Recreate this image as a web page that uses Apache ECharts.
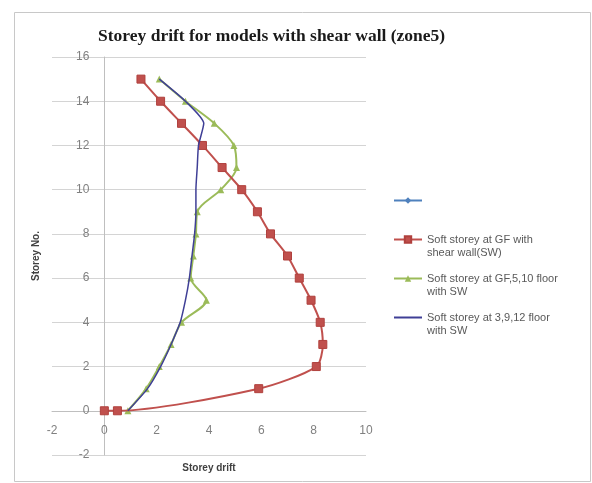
<!DOCTYPE html>
<html>
<head>
<meta charset="utf-8">
<script src="https://cdn.jsdelivr.net/npm/echarts@6/dist/echarts.min.js"></script>
<style>
html,body{margin:0;padding:0;background:#fff;}
#c{width:592px;height:483px;}
</style>
</head>
<body>
<div id="c"></div>
<script>
// ---- data ----
const title = 'Storey drift for models with shear wall (zone5)';
const xName = 'Storey drift';
const yName = 'Storey No.';
const seriesNames = [' ', 'Soft storey at GF with\nshear wall(SW)', 'Soft storey at GF,5,10 floor\nwith SW', 'Soft storey at 3,9,12 floor\nwith SW'];

const blankDrift = [0];
const blankStorey = [0];

const redDrift = [0, 0.5, 5.9, 8.1, 8.35, 8.25, 7.9, 7.45, 7.0, 6.35, 5.85, 5.25, 4.5, 3.75, 2.95, 2.15, 1.4];
const redStorey = [0, 0, 1, 2, 3, 4, 5, 6, 7, 8, 9, 10, 11, 12, 13, 14, 15];

const greenDrift = [0.9, 1.6, 2.1, 2.55, 2.95, 3.9, 3.3, 3.4, 3.5, 3.55, 4.45, 5.05, 4.95, 4.2, 3.1, 2.1];
const greenStorey = [0, 1, 2, 3, 4, 5, 6, 7, 8, 9, 10, 11, 12, 13, 14, 15];

const navyDrift = [0.9, 1.65, 2.15, 2.55, 2.9, 3.1, 3.25, 3.35, 3.45, 3.5, 3.5, 3.55, 3.6, 3.8, 3.1, 2.1];
const navyStorey = [0, 1, 2, 3, 4, 5, 6, 7, 8, 9, 10, 11, 12, 13, 14, 15];

const xMin = -2, xMax = 10, xStep = 2;
const yMin = -2, yMax = 16, yStep = 2;

function pairs(xs, ys) { return xs.map((x, i) => [x, ys[i]]); }

const W = 592, H = 483;
const G = {left: 52, right: 226, top: 57, bottom: 28};
const gw = W - G.left - G.right, gh = H - G.top - G.bottom;
// axes cross at zero: shift axis (line + labels) into the grid
const yAxisShift = gw * (0 - xMin) / (xMax - xMin);
const xAxisShift = gh * (0 - yMin) / (yMax - yMin);

const chart = echarts.init(document.getElementById('c'), null, {renderer: 'canvas'});
const labelColor = '#595959';
chart.setOption({
  backgroundColor: '#fff',
  animation: false,
  title: {
    text: title,
    left: 93, top: 22,
    textStyle: {fontFamily: 'Liberation Serif', fontWeight: 'bold', fontSize: 17.5, color: '#1a1a1a'}
  },
  graphic: [{
    type: 'rect', shape: {x: 14.5, y: 12.5, width: 576, height: 469},
    style: {fill: null, stroke: '#c8c8c8', lineWidth: 1}, z: -1
  }],
  grid: Object.assign({outerBoundsMode: 'none', containLabel: false}, G),
  legend: {
    orient: 'vertical', left: 388, top: 176, itemGap: 0,
    itemWidth: 28, itemHeight: 8,
    data: [
      {name: seriesNames[0]},
      {name: seriesNames[1]},
      {name: seriesNames[2]},
      {name: seriesNames[3], itemStyle: {opacity: 0}}
    ],
    formatter: n => n.indexOf('\n') >= 0 ? '\n' + n : '\n' + n + '\n',
    textStyle: {fontFamily: 'Liberation Sans', fontSize: 11, color: labelColor, lineHeight: 13}
  },
  xAxis: {
    type: 'value', min: xMin, max: xMax, interval: xStep,
    position: 'bottom', offset: -xAxisShift,
    name: xName, nameLocation: 'middle', nameGap: 52,
    nameTextStyle: {fontFamily: 'Liberation Sans', fontWeight: 'bold', fontSize: 10, color: '#404040'},
    axisLine: {onZero: false, lineStyle: {color: '#bfbfbf'}},
    axisTick: {show: false},
    axisLabel: {margin: 14, fontFamily: 'Liberation Sans', fontSize: 12, color: '#808080'},
    splitLine: {show: false}
  },
  yAxis: {
    type: 'value', min: yMin, max: yMax, interval: yStep,
    position: 'left', offset: -yAxisShift,
    name: yName, nameLocation: 'middle', nameGap: 63, nameRotate: 90,
    nameTextStyle: {fontFamily: 'Liberation Sans', fontWeight: 'bold', fontSize: 10, color: '#404040'},
    axisLine: {onZero: false, lineStyle: {color: '#bfbfbf'}},
    axisTick: {show: false},
    axisLabel: {margin: 15, fontFamily: 'Liberation Sans', fontSize: 12, color: '#808080'},
    splitLine: {show: true, lineStyle: {color: '#d4d4d4'}}
  },
  series: [
    {
      name: seriesNames[0], type: 'line', data: pairs(blankDrift, blankStorey),
      symbol: 'diamond', symbolSize: 7, z: 1,
      lineStyle: {color: '#4F81BD', width: 2}, itemStyle: {color: '#4F81BD'}
    },
    {
      name: seriesNames[1], type: 'line', data: pairs(redDrift, redStorey),
      symbol: 'rect', symbolSize: 8, smooth: 0.25, z: 3,
      lineStyle: {color: '#C0504D', width: 2}, itemStyle: {color: '#C0504D', borderColor: '#B0403D', borderWidth: 1}
    },
    {
      name: seriesNames[2], type: 'line', data: pairs(greenDrift, greenStorey),
      symbol: 'triangle', symbolSize: 7, smooth: 0.3, z: 2,
      lineStyle: {color: '#9BBB59', width: 2}, itemStyle: {color: '#9BBB59'}
    },
    {
      name: seriesNames[3], type: 'line', data: pairs(navyDrift, navyStorey),
      symbol: 'none', smooth: 0.2, z: 4,
      lineStyle: {color: '#3F3F96', width: 1.5}, itemStyle: {color: '#3F3F96'}
    }
  ]
});
</script>
</body>
</html>
